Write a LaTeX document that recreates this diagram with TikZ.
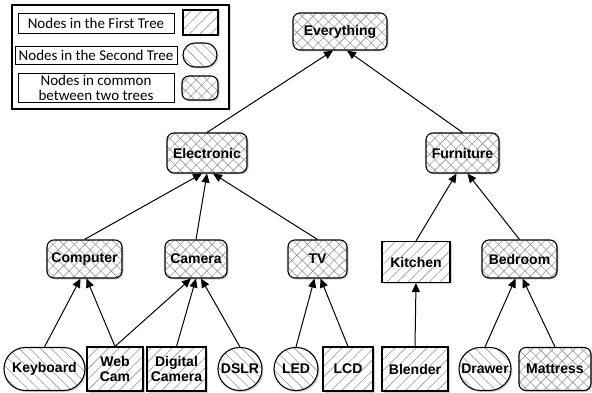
\documentclass[tikz,border=0pt]{standalone}
\usepackage{fontspec}
\setmainfont{Liberation Sans}
\newfontfamily\legendfont{Carlito}
\usetikzlibrary{arrows.meta,patterns.meta,shadows,shapes.misc}
\tikzset{
    tree node/.style = {
        draw,
        line width=1.1pt,
        inner sep=1pt,
        align=center,
        font=\fontsize{14}{14.5}\selectfont\bfseries,
        drop shadow={opacity=0.35, shadow xshift=1.5pt, shadow yshift=-1.5pt},
        preaction={fill=white},
        pattern color=gray!80,
        },
    first/.style = {
        tree node,
        rectangle,
        pattern={Lines[angle=45, distance=7.5pt, line width=0.6pt]},
        },
    second/.style = {
        tree node,
        rounded rectangle,
        pattern={Lines[angle=-45, distance=7.5pt, line width=0.6pt]},
        },
    common/.style = {
        tree node,
        rectangle,
        rounded corners=7pt,
        pattern={Hatch[angle=45, distance=7.5pt, line width=0.6pt]},
        },
    legend text/.style = {
        draw,
        line width=0.6pt,
        fill=white,
        align=center,
        inner sep=1pt,
        font=\legendfont\fontsize{15}{15}\selectfont,
        drop shadow={opacity=0.3, shadow xshift=1.2pt, shadow yshift=-1.2pt},
        },
    tree edge/.style = {
        line width=1pt,
        -{Triangle[length=9pt, width=8pt]},
        },
}

\begin{document}
\begin{tikzpicture}[x=1pt, y=-1pt]
    \useasboundingbox (0,0) rectangle (592,393);

    % legend
    \node[draw, line width=1.1pt, fill=white, minimum width=217pt, minimum height=104pt,
          drop shadow={opacity=0.3, shadow xshift=1.5pt, shadow yshift=-1.5pt}] (legend) at (120.5,57) {};
    \node[legend text, minimum width=156pt, minimum height=20pt] (leg first) at (96,23) {Nodes in the First Tree};
    \node[first, minimum width=35pt, minimum height=25pt] (sym first) at (200.5,22.5) {};
    \node[legend text, minimum width=162pt, minimum height=18pt] (leg second) at (96,55) {Nodes in the Second Tree};
    \node[second, minimum width=36pt, minimum height=24pt] (sym second) at (200,55) {};
    \node[legend text, minimum width=156pt, minimum height=29pt] (leg common) at (96,87.5) {Nodes in common\\between two trees};
    \node[common, minimum width=36pt, minimum height=24pt] (sym common) at (200,88) {};

    % top levels
    \node[common, minimum width=94pt, minimum height=37pt] (everything) at (340,31.5) {Everything};
    \node[common, minimum width=80pt, minimum height=40pt] (electronic) at (207,153) {Electronic};
    \node[common, minimum width=73pt, minimum height=40pt] (furniture) at (462.5,153) {Furniture};

    % middle level
    \node[common, minimum width=75pt, minimum height=38pt] (computer) at (84.5,259) {Computer};
    \node[common, minimum width=62pt, minimum height=38pt] (camera) at (196,259) {Camera};
    \node[common, minimum width=59pt, minimum height=38pt] (tv) at (317.5,259) {TV};
    \node[first, minimum width=68pt, minimum height=41pt] (kitchen) at (416,262) {Kitchen};
    \node[common, minimum width=75pt, minimum height=38pt] (bedroom) at (519.5,259) {Bedroom};

    % leaves
    \node[second, minimum width=83pt, minimum height=43pt] (keyboard) at (44.5,369) {Keyboard};
    \node[first, minimum width=56pt, minimum height=44pt] (webcam) at (115,369) {Web\\Cam};
    \node[first, minimum width=59pt, minimum height=44pt] (digicam) at (176.5,369) {Digital\\Camera};
    \node[second, minimum width=46pt, minimum height=43pt] (dslr) at (240,369) {DSLR};
    \node[second, minimum width=46pt, minimum height=43pt] (led) at (296,369) {LED};
    \node[first, minimum width=50pt, minimum height=44pt] (lcd) at (348,369) {LCD};
    \node[first, minimum width=66pt, minimum height=44pt] (blender) at (415,369) {Blender};
    \node[second, minimum width=54pt, minimum height=43pt] (drawer) at (485,369) {Drawer};
    \node[common, minimum width=72pt, minimum height=43pt] (mattress) at (555,369) {Mattress};

    % edges
    \path[tree edge] (electronic.north) edge ([xshift=-7pt]everything.south);
    \path[tree edge] (furniture.north) edge ([xshift=7pt]everything.south);
    \path[tree edge] (computer.north) edge ([xshift=-5pt]electronic.south);
    \path[tree edge] (camera.north) edge (electronic.south);
    \path[tree edge] (tv.north) edge ([xshift=6pt]electronic.south);
    \path[tree edge] (kitchen.north) edge ([xshift=-6pt]furniture.south);
    \path[tree edge] (bedroom.north) edge ([xshift=5pt]furniture.south);
    \path[tree edge] (keyboard.north) edge ([xshift=-4pt]computer.south);
    \path[tree edge] (webcam.north) edge ([xshift=2pt]computer.south);
    \path[tree edge] (webcam.north) edge ([xshift=-5pt]camera.south);
    \path[tree edge] (digicam.north) edge ([xshift=0pt]camera.south);
    \path[tree edge] (dslr.north) edge ([xshift=5pt]camera.south);
    \path[tree edge] (led.north) edge ([xshift=-3pt]tv.south);
    \path[tree edge] (lcd.north) edge ([xshift=3pt]tv.south);
    \path[tree edge] (blender.north) edge (kitchen.south);
    \path[tree edge] (drawer.north) edge ([xshift=-4pt]bedroom.south);
    \path[tree edge] (mattress.north) edge ([xshift=3pt]bedroom.south);
\end{tikzpicture}
\end{document}
